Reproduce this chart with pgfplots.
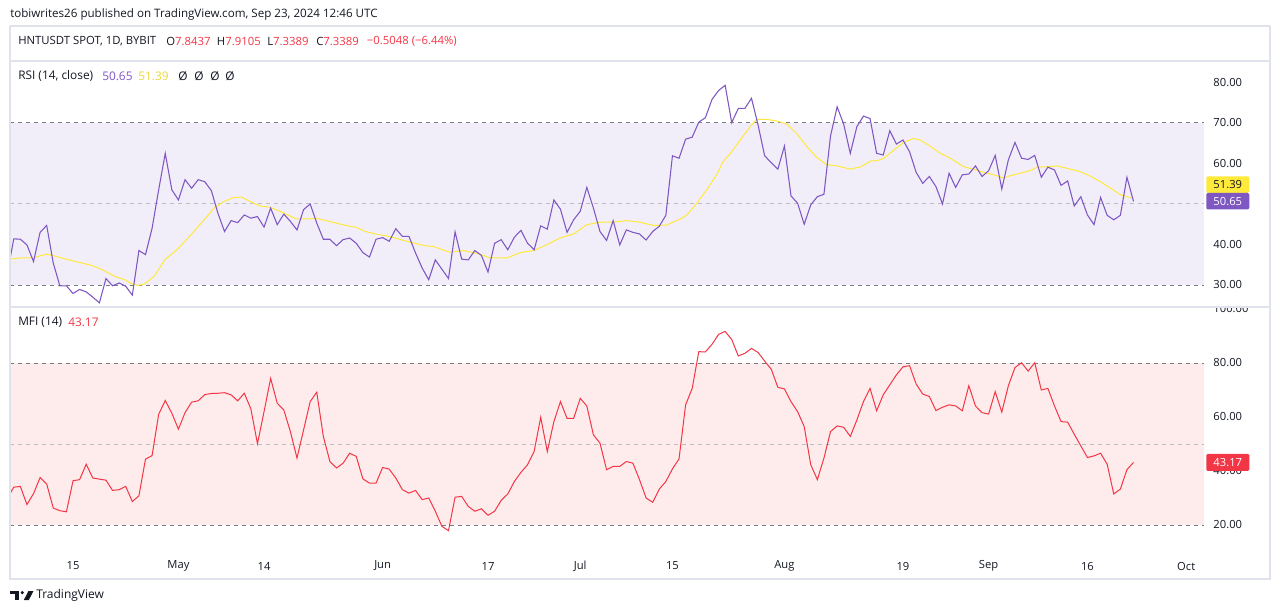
\documentclass[border=0pt]{standalone}
\usepackage{pgfplots}
\usepackage{pgfplotstable}
\pgfplotsset{compat=1.18}
\usepgfplotslibrary{fillbetween}
\usepackage{fontspec}
\setmainfont{Open Sans}
\definecolor{tvtext}{HTML}{131722}
\definecolor{rsic}{HTML}{7E57C2}
\definecolor{mac}{HTML}{FFE93B}
\definecolor{mfic}{HTML}{F23645}
\definecolor{rsiband}{RGB}{242,238,249}
\definecolor{mfiband}{RGB}{254,235,236}
\definecolor{dashA}{HTML}{787B86}
\definecolor{dashB}{RGB}{187,189,194}
\definecolor{framec}{HTML}{E0E3EB}
\definecolor{greenfill}{RGB}{212,238,220}
\definecolor{redfill}{RGB}{253,226,228}

\pgfplotstableread{
x y
96 32.6
97 41.4
98 41.3
99 39.9
100 35.8
101 43.0
102 44.7
103 35.4
104 29.8
105 29.8
106 27.9
107 28.9
108 28.3
109 27.0
110 25.6
111 31.6
112 29.8
113 30.5
114 29.7
115 27.5
116 38.5
117 37.5
118 44.0
119 53.5
120 62.5
121 53.5
122 51.0
123 56.0
124 53.9
125 56.0
126 55.5
127 53.3
128 47.7
129 43.2
130 45.9
131 45.4
132 47.3
133 46.5
134 46.9
135 44.3
136 49.0
137 44.9
138 47.5
139 45.7
140 43.6
141 48.6
142 50.0
143 45.3
144 41.3
145 41.3
146 39.7
147 41.2
148 41.6
149 40.3
150 38.0
151 36.9
152 41.3
153 41.7
154 40.8
155 43.9
156 42.0
157 42.0
158 37.9
159 34.2
160 31.3
161 36.2
162 33.9
163 31.6
164 43.1
165 36.4
166 36.2
167 38.5
168 37.3
169 33.2
170 40.3
171 41.2
172 38.7
173 41.8
174 43.5
175 40.3
176 38.7
177 44.6
178 43.8
179 51.0
180 48.7
181 43.0
182 46.1
183 48.2
184 54.1
185 49.0
186 43.2
187 41.0
188 45.9
189 39.9
190 43.6
191 43.0
192 42.6
193 41.1
194 43.2
195 44.5
196 47.2
197 61.9
198 61.3
199 66.0
200 66.5
201 70.2
202 71.3
203 75.8
204 78.0
205 79.3
206 70.1
207 73.6
208 73.6
209 76.1
210 69.5
211 61.9
212 60.2
213 58.6
214 64.3
215 52.0
216 50.2
217 45.0
218 49.8
219 51.8
220 52.4
221 66.8
222 74.0
223 69.7
224 62.5
225 69.1
226 71.7
227 71.1
228 62.5
229 62.1
230 68.1
231 64.8
232 65.8
233 62.9
234 57.8
235 55.1
236 56.8
237 54.3
238 50.0
239 57.6
240 54.1
241 57.2
242 57.4
243 59.4
244 56.8
245 58.2
246 62.0
247 53.7
248 60.9
249 65.2
250 61.3
251 61.0
252 62.0
253 56.6
254 59.1
255 58.4
256 54.6
257 55.7
258 49.5
259 51.8
260 47.3
261 44.9
262 51.6
263 47.2
264 46.1
265 47.2
266 56.6
267 50.65
}\rsidata

\pgfplotstableread{
x y
96.0 36.3
97.9 36.7
99.9 36.7
101.9 37.6
102.9 37.3
104.9 36.4
106.9 35.6
108.9 34.8
110.4 33.8
112.4 32.1
113.9 31.3
114.9 30.3
115.9 29.9
116.9 30.3
118.4 32.3
119.9 36.2
121.9 38.9
123.9 42.4
125.9 46.1
127.4 49.0
128.9 50.6
130.4 51.6
131.6 51.7
132.9 50.6
134.4 49.5
135.9 49.2
137.4 48.2
138.9 47.1
139.9 46.3
141.4 46.3
142.9 46.5
144.4 45.9
145.9 45.3
147.4 44.7
148.9 44.3
150.4 43.2
151.9 42.6
153.4 42.2
154.9 41.6
156.4 40.9
157.9 40.3
159.4 39.7
160.7 39.5
163.2 38.1
165.3 38.5
167.8 37.6
169.3 36.7
171.9 36.7
173.9 38.0
175.9 38.5
177.9 39.9
179.9 41.6
182.0 42.6
184.0 44.9
186.0 45.5
188.0 45.5
190.1 45.9
192.1 45.5
194.1 44.7
196.1 44.8
198.2 46.3
199.2 47.3
200.7 50.2
202.2 53.5
203.7 57.2
204.7 60.5
205.8 62.5
207.3 65.8
208.8 69.1
209.8 70.9
211.3 70.9
212.8 70.5
214.4 69.7
215.9 67.3
217.4 64.2
218.9 61.5
220.4 59.7
222.0 59.4
224.0 58.6
225.6 59.2
227.1 60.6
228.1 60.7
229.1 61.3
230.6 63.3
232.1 65.2
233.6 66.2
234.6 65.8
236.2 64.2
237.7 62.5
239.2 61.3
241.2 59.2
242.7 58.6
244.3 57.8
245.8 57.2
247.3 56.4
248.3 57.0
249.8 57.6
251.4 58.3
252.4 59.1
253.9 59.2
255.4 59.4
256.9 58.8
258.9 58.0
260.5 56.8
262.0 55.5
263.5 53.9
265.0 52.3
266.0 51.8
267.0 51.39
}\madata

\pgfplotstableread{
x y
96 29.8
97 34.0
98 34.3
99 27.6
100 31.6
101 37.6
102 35.2
103 26.3
104 25.3
105 24.9
106 36.4
107 36.8
108 42.5
109 37.4
110 37.0
111 36.6
112 32.8
113 33.1
114 34.3
115 28.7
116 30.8
117 44.4
118 45.7
119 61.0
120 66.1
121 61.4
122 55.5
123 61.6
124 65.5
125 66.0
126 68.3
127 68.7
128 68.8
129 69.0
130 68.2
131 66.0
132 68.8
133 63.0
134 50.1
135 62.0
136 74.3
137 65.1
138 62.6
139 54.6
140 44.8
141 55.2
142 65.7
143 69.2
144 52.8
145 43.5
146 41.1
147 42.9
148 46.6
149 45.4
150 37.1
151 35.5
152 35.5
153 41.3
154 40.7
155 37.4
156 33.1
157 31.8
158 32.8
159 29.4
160 30.0
161 25.1
162 19.5
163 17.9
164 30.3
165 30.6
166 26.9
167 25.1
168 26.0
169 23.6
170 25.1
171 29.1
172 31.5
173 36.1
174 39.5
175 42.3
176 47.2
177 59.9
178 47.2
179 58.3
180 65.7
181 59.5
182 59.5
183 66.9
184 64.1
185 53.4
186 50.3
187 40.5
188 41.7
189 41.7
190 43.5
191 42.9
192 36.8
193 30.0
194 28.4
195 33.3
196 36.1
197 40.8
198 44.5
199 64.5
200 70.6
201 84.2
202 84.1
203 86.9
204 90.6
205 91.7
206 88.7
207 82.6
208 83.6
209 85.4
210 83.9
211 80.7
212 77.7
213 71.0
214 70.4
215 65.7
216 62.0
217 56.5
218 42.3
219 36.8
220 44.8
221 54.6
222 56.7
223 56.2
224 52.8
225 58.9
226 65.7
227 70.6
228 62.3
229 68.2
230 71.9
231 75.6
232 78.6
233 79.0
234 72.2
235 68.5
236 67.6
237 62.4
238 63.6
239 64.5
240 64.1
241 62.3
242 71.6
243 64.1
244 61.6
245 61.1
246 69.4
247 61.8
248 71.6
249 78.3
250 80.1
251 77.0
252 80.1
253 70.0
254 70.6
255 64.1
256 58.3
257 58.1
258 53.6
259 49.3
260 45.0
261 45.6
262 46.6
263 42.5
264 31.5
265 33.3
266 40.5
267 43.17
}\mfidata

\newcommand{\lblfont}{\fontsize{8.4}{10}\selectfont}
\newcommand{\hdrfont}{\fontsize{8.7}{10}\selectfont}
\newcommand{\symfont}{\fontsize{8.5}{10}\selectfont}
\newcommand{\panefont}{\fontsize{8.9}{10}\selectfont}

\begin{document}
\begin{tikzpicture}
\pgfplotsset{
  tvaxis/.style={
    scale only axis, width=895.5pt,
    xmin=96.43, xmax=277.7,
    axis line style={draw=none},
    major tick length=0pt,
    yticklabel pos=right,
    yticklabel style={font=\lblfont, text=tvtext, anchor=west, inner sep=0pt, xshift=6.9pt},
    xticklabel style={font=\lblfont, text=tvtext, anchor=center, inner sep=0pt, yshift=-11.25pt},
    clip=true,
  }
}
% ---------- RSI pane ----------
\begin{axis}[tvaxis, at={(10*0.75pt,-61*0.75pt)}, anchor=north west,
  height=184.5pt, ymin=24.57, ymax=85.3,
  xtick=\empty,
  ytick={30,40,60,70,80},
  yticklabels={30.00,40.00,60.00,70.00,80.00}]
  \fill[rsiband] (axis cs:96.43,30) rectangle (axis cs:277.7,70);
  \draw[dashA, line width=0.75pt, dash pattern=on 3pt off 3pt] (axis cs:96.43,70) -- (axis cs:277.7,70);
  \draw[dashA, line width=0.75pt, dash pattern=on 3pt off 3pt] (axis cs:96.43,30) -- (axis cs:277.7,30);
  \draw[dashB, line width=0.75pt, dash pattern=on 3pt off 3pt] (axis cs:96.43,50) -- (axis cs:277.7,50);
  \addplot[draw=none, name path=rsiline, forget plot] table[x=x,y=y] {\rsidata};
  \path[name path=l70] (axis cs:90,70) -- (axis cs:280,70);
  \path[name path=l30] (axis cs:90,30) -- (axis cs:280,30);
  \addplot[greenfill, draw=none] fill between[of=rsiline and l70, soft clip={domain y=70:90}];
  \addplot[redfill, draw=none] fill between[of=rsiline and l30, soft clip={domain y=20:30}];
  \addplot[mac, line width=0.75pt] table[x=x,y=y] {\madata};
  \addplot[rsic, line width=0.8pt] table[x=x,y=y] {\rsidata};
\end{axis}
% ---------- MFI pane ----------
\begin{axis}[tvaxis, at={(10*0.75pt,-307*0.75pt)}, anchor=north west,
  height=183pt, ymin=10.37, ymax=100.74,
  xtick={106,122,135,153,169,183,197,214,232,245,260,275},
  xticklabels={15,May,14,Jun,17,Jul,15,Aug,19,Sep,16,Oct},
  ytick={20,40,60,80,100},
  yticklabels={20.00,40.00,60.00,80.00,100.00}]
  \fill[mfiband] (axis cs:96.43,20) rectangle (axis cs:277.7,80);
  \draw[dashA, line width=0.75pt, dash pattern=on 3pt off 3pt] (axis cs:96.43,80) -- (axis cs:277.7,80);
  \draw[dashA, line width=0.75pt, dash pattern=on 3pt off 3pt] (axis cs:96.43,20) -- (axis cs:277.7,20);
  \draw[dashB, line width=0.75pt, dash pattern=on 3pt off 3pt] (axis cs:96.43,50) -- (axis cs:277.7,50);
  \addplot[mfic, line width=0.75pt] table[x=x,y=y] {\mfidata};
\end{axis}

\begin{scope}[x=0.75pt, y=-0.75pt]
  % cover top of "100.00"
  \fill[white] (1205,292) rectangle (1269.5,307);
  % frame
  \draw[framec, line width=0.9pt] (10,26) rectangle (1270,579);
  \draw[framec, line width=0.9pt] (10,61) -- (1270,61);
  \draw[framec, line width=0.9pt] (10,307) -- (1270,307);
  % header
  \node[anchor=west, inner sep=0pt, text=tvtext, font=\hdrfont] at (10,14) {tobiwrites26 published on TradingView.com, Sep 23, 2024 12:46 UTC};
  \node[anchor=west, inner sep=0pt, text=tvtext, font=\symfont] at (18,41.5) {HNTUSDT SPOT, 1D, BYBIT};
  \node[anchor=west, inner sep=0pt, font=\symfont] at (166,41.5) {\textcolor{tvtext}{O}\textcolor{mfic}{7.8437}};
  \node[anchor=west, inner sep=0pt, font=\symfont] at (216.7,41.5) {\textcolor{tvtext}{H}\textcolor{mfic}{7.9105}};
  \node[anchor=west, inner sep=0pt, font=\symfont] at (267,41.5) {\textcolor{tvtext}{L}\textcolor{mfic}{7.3389}};
  \node[anchor=west, inner sep=0pt, font=\symfont] at (316,41.5) {\textcolor{tvtext}{C}\textcolor{mfic}{7.3389}};
  \node[anchor=west, inner sep=0pt, font=\symfont, text=mfic] at (366.7,41.5) {−0.5048 (−6.44\%)};
  \node[anchor=west, inner sep=0pt, text=tvtext, font=\panefont] at (18,76) {RSI (14, close)};
  \node[anchor=west, inner sep=0pt, text=rsic, font=\panefont] at (102,76) {50.65};
  \node[anchor=west, inner sep=0pt, text=mac!92!black, font=\panefont] at (138,76) {51.39};
  \node[anchor=west, inner sep=0pt, text=tvtext, font=\panefont] at (178,76) {Ø};
  \node[anchor=west, inner sep=0pt, text=tvtext, font=\panefont] at (194,76) {Ø};
  \node[anchor=west, inner sep=0pt, text=tvtext, font=\panefont] at (210,76) {Ø};
  \node[anchor=west, inner sep=0pt, text=tvtext, font=\panefont] at (225,76) {Ø};
  \node[anchor=west, inner sep=0pt, text=tvtext, font=\panefont] at (18,322) {MFI (14)};
  \node[anchor=west, inner sep=0pt, text=mfic, font=\panefont] at (68,322) {43.17};
  % value markers
  \node[anchor=west, fill=mac, text=tvtext, font=\lblfont, inner sep=0pt, minimum width=43*0.75pt, minimum height=16.5*0.75pt, rounded corners=1pt] at (1206,184.5) {51.39};
  \node[anchor=west, fill=rsic, text=white, font=\lblfont, inner sep=0pt, minimum width=43*0.75pt, minimum height=16.5*0.75pt, rounded corners=1pt] at (1206,201.2) {50.65};
  \node[anchor=west, fill=mfic, text=white, font=\lblfont, inner sep=0pt, minimum width=43*0.75pt, minimum height=17*0.75pt, rounded corners=1pt] at (1206,462.4) {43.17};
  % logo
  \fill[tvtext] (9.5,591) rectangle (19,594.2);
  \fill[tvtext] (15.3,591) rectangle (19,600);
  \fill[tvtext] (22.3,592.6) circle (1.7);
  \fill[tvtext] (28.5,591) -- (33.5,591) -- (28.8,600) -- (23.8,600) -- cycle;
  \node[anchor=west, inner sep=0pt, text=tvtext, font=\fontsize{9}{10}\selectfont] at (36,595.5) {TradingView};
  \pgfresetboundingbox
  \path[use as bounding box] (0,0) rectangle (1281,615);
\end{scope}
\end{tikzpicture}
\end{document}
